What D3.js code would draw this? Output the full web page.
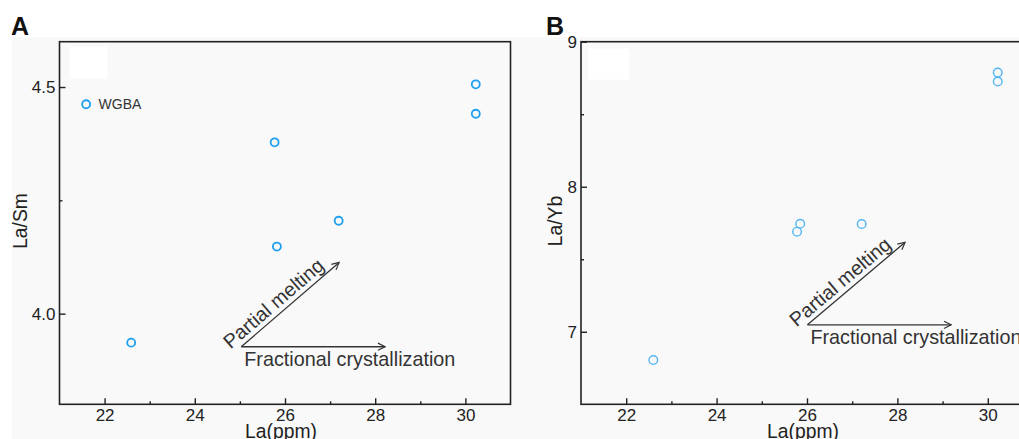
<!DOCTYPE html>
<html>
<head>
<meta charset="utf-8">
<script src="https://cdn.jsdelivr.net/npm/d3@7"></script>
<style>
  body { margin: 0; background: #fff; }
  svg { display: block; font-family: "Liberation Sans", Arial, sans-serif; }
  .tick text { fill: #222; }
</style>
</head>
<body>
<svg id="chart" width="1019" height="439"></svg>
<script>
// ---- data ----
const xTicks = [22, 24, 26, 28, 30];
const xMinorTicks = [23, 25, 27, 29];

// panel A: La vs La/Sm
const laA = [21.59, 30.23, 30.23, 25.77, 27.19, 25.82, 22.59];
const laSm = [4.462, 4.506, 4.441, 4.378, 4.205, 4.148, 3.936];
const labelsA = ["WGBA", "", "", "", "", "", ""];
const yTicksA = [4.0, 4.5];
const yMinorA = [4.25];

// panel B: La vs La/Yb
const laB = [30.22, 30.22, 25.85, 25.78, 27.21, 22.6];
const laYb = [8.787, 8.725, 7.745, 7.69, 7.743, 6.805];
const yTicksB = [7, 8, 9];
const yMinorB = [7.5, 8.5];

// trend arrows (data units): origin, partial melting tip, fractional crystallization tip
const arrowOriginA = [25.03, 3.927];
const arrowMeltA = [27.2, 4.113];
const arrowFracA = [28.22, 3.927];
const arrowOriginB = [26.01, 7.048];
const arrowMeltB = [28.17, 7.617];
const arrowFracB = [29.19, 7.048];

const svg = d3.select("#chart");

// light grey backdrop behind both panels
svg.append("rect")
  .attr("x", 12).attr("y", 37)
  .attr("width", 1019 - 12).attr("height", 439 - 37)
  .attr("fill", "#f9f9f9");

svg.append("defs").append("marker")
  .attr("id", "openArrow")
  .attr("viewBox", "0 0 10 10")
  .attr("refX", 9).attr("refY", 5)
  .attr("markerWidth", 9).attr("markerHeight", 9)
  .attr("markerUnits", "userSpaceOnUse")
  .attr("orient", "auto")
  .append("path")
    .attr("d", "M1,1 L9,5 L1,9")
    .attr("fill", "none")
    .attr("stroke", "#333")
    .attr("stroke-width", 1.3);

const drawPanel = function (conf) {
  const g = svg.append("g")
    .attr("transform", `translate(${conf.left}, ${conf.top})`);

  const xScale = d3.scaleLinear().domain(conf.xDomain).range([0, conf.width]);
  const yScale = d3.scaleLinear().domain(conf.yDomain).range([conf.height, 0]);

  // white legend box (empty)
  g.append("rect")
    .attr("x", conf.box[0]).attr("y", conf.box[1])
    .attr("width", conf.box[2]).attr("height", conf.box[3])
    .attr("fill", "#fff");

  const xAxis = d3.axisBottom(xScale)
    .tickValues(xTicks)
    .tickSize(-6)
    .tickPadding(5)
    .tickFormat(d3.format("d"));
  const xAxisG = g.append("g")
    .attr("transform", `translate(0, ${conf.height})`)
    .call(xAxis);
  g.append("g")
    .attr("transform", `translate(0, ${conf.height})`)
    .call(d3.axisBottom(xScale).tickValues(xMinorTicks).tickSize(-3).tickFormat(""));

  const yAxis = d3.axisLeft(yScale)
    .tickValues(conf.yTicks)
    .tickSize(-6)
    .tickPadding(4)
    .tickFormat(conf.yFormat);
  const yAxisG = g.append("g").call(yAxis);
  g.append("g")
    .call(d3.axisLeft(yScale).tickValues(conf.yMinor).tickSize(-3).tickFormat(""));

  g.selectAll(".domain").remove();
  g.selectAll(".tick line").attr("stroke", "#222").attr("stroke-width", 1.4);
  [xAxisG, yAxisG].forEach(a => a.selectAll("text")
    .attr("font-size", 17)
    .attr("font-family", "Liberation Sans, Arial, sans-serif"));

  // frame
  g.append("rect")
    .attr("width", conf.width).attr("height", conf.height)
    .attr("fill", "none")
    .attr("stroke", "#222")
    .attr("stroke-width", 1.6);

  // axis titles
  g.append("text")
    .attr("x", conf.width / 2 - 4)
    .attr("y", conf.height + 33.5)
    .attr("text-anchor", "middle")
    .attr("font-size", 19.3)
    .attr("fill", "#222")
    .text("La(ppm)");
  g.append("text")
    .attr("transform", `translate(${conf.yTitleX - conf.left}, ${221 - conf.top}) rotate(-90)`)
    .attr("text-anchor", "middle")
    .attr("font-size", 19.3)
    .attr("fill", "#222")
    .text(conf.yTitle);

  // panel letter
  svg.append("text")
    .attr("x", conf.letterX).attr("y", 35)
    .attr("font-size", 25)
    .attr("font-weight", "bold")
    .attr("fill", "#111")
    .text(conf.letter);

  // arrows
  const [ox, oy] = [xScale(conf.origin[0]), yScale(conf.origin[1])];
  const [mx, my] = [xScale(conf.melt[0]), yScale(conf.melt[1])];
  const [fx, fy] = [xScale(conf.frac[0]), yScale(conf.frac[1])];
  g.selectAll("line.arrow")
    .data([[mx, my], [fx, fy]])
    .enter()
    .append("line")
      .attr("class", "arrow")
      .attr("x1", ox).attr("y1", oy)
      .attr("x2", d => d[0]).attr("y2", d => d[1])
      .attr("stroke", "#333")
      .attr("stroke-width", 1.3)
      .attr("marker-end", "url(#openArrow)");

  const angle = Math.atan2(my - oy, mx - ox) * 180 / Math.PI;
  g.append("text")
    .attr("transform", `translate(${ox}, ${oy}) rotate(${angle})`)
    .attr("x", -10).attr("y", -5)
    .attr("font-size", 19.8)
    .attr("fill", "#333")
    .text("Partial melting");
  g.append("text")
    .attr("x", ox + 3).attr("y", oy + 19.5)
    .attr("font-size", 19.8)
    .attr("fill", "#333")
    .text("Fractional crystallization");

  // samples
  const pts = d3.zip(conf.xs, conf.ys, conf.labels || conf.xs.map(() => ""));
  g.selectAll("circle.sample")
    .data(pts)
    .enter()
    .append("circle")
      .attr("class", "sample")
      .attr("cx", d => xScale(d[0]))
      .attr("cy", d => yScale(d[1]))
      .attr("r", conf.r)
      .attr("fill", "none")
      .attr("stroke", conf.color)
      .attr("stroke-width", conf.strokeW);
  g.selectAll("text.lbl")
    .data(pts.filter(d => d[2]))
    .enter()
    .append("text")
      .attr("class", "lbl")
      .attr("x", d => xScale(d[0]) + 12.5)
      .attr("y", d => yScale(d[1]) + 5)
      .attr("font-size", 14)
      .attr("fill", "#333")
      .text(d => d[2]);
};

drawPanel({
  letter: "A", letterX: 11,
  left: 59.5, top: 41.7, width: 451, height: 362.6,
  xDomain: [21, 31], yDomain: [3.8, 4.6],
  yTicks: yTicksA, yMinor: yMinorA, yFormat: d3.format(".1f"),
  yTitle: "La/Sm", yTitleX: 27,
  box: [10, 5, 38, 32],
  xs: laA, ys: laSm, labels: labelsA,
  color: "#1f9ff0", strokeW: 1.8, r: 4,
  origin: arrowOriginA, melt: arrowMeltA, frac: arrowFracA
});

drawPanel({
  letter: "B", letterX: 546,
  left: 581, top: 41.7, width: 452, height: 362.6,
  xDomain: [21, 31], yDomain: [6.5, 9],
  yTicks: yTicksB, yMinor: yMinorB, yFormat: d3.format("d"),
  yTitle: "La/Yb", yTitleX: 562,
  box: [7, 7, 41, 31],
  xs: laB, ys: laYb,
  color: "#55b6f3", strokeW: 1.4, r: 4.3,
  origin: arrowOriginB, melt: arrowMeltB, frac: arrowFracB
});
</script>
</body>
</html>
